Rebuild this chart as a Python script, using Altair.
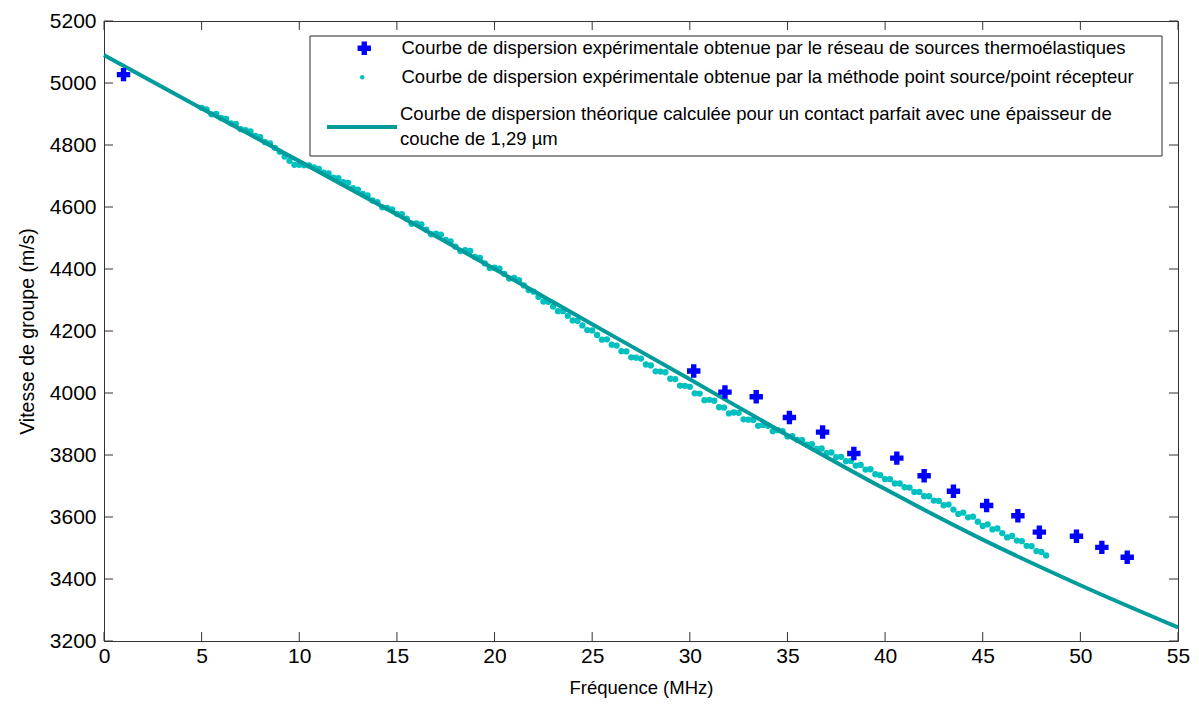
import altair as alt
import pandas as pd

FONT = "Liberation Sans"
W, H = 1074, 620

cross_label = "Courbe de dispersion expérimentale obtenue par le réseau de sources thermoélastiques"
dot_label = "Courbe de dispersion expérimentale obtenue par la méthode point source/point récepteur"
line_label = "Courbe de dispersion théorique calculée pour un contact parfait avec une épaisseur de couche de 1,29 µm"

x_ticks = [0, 5, 10, 15, 20, 25, 30, 35, 40, 45, 50, 55]
y_ticks = [3200, 3400, 3600, 3800, 4000, 4200, 4400, 4600, 4800, 5000, 5200]

# thermoelastic source array (blue crosses)
cross_f = [1.0, 30.2, 31.8, 33.4, 35.1, 36.8, 38.4, 40.6, 42.0, 43.5, 45.2, 46.8, 47.9, 49.8, 51.1, 52.4]
cross_v = [5027, 4071, 4003, 3988, 3921, 3874, 3805, 3790, 3733, 3683, 3637, 3604, 3551, 3538, 3502, 3470]

# point source / point receiver (cyan dots)
dot_f = [5.0, 5.25, 5.5, 5.75, 6.0, 6.25, 6.5, 6.75, 7.0, 7.25, 7.5, 7.75, 8.0, 8.25, 8.5, 8.75,
         9.0, 9.25, 9.5, 9.75, 10.0, 10.25, 10.5, 10.75, 11.0, 11.25, 11.5, 11.75, 12.0, 12.25, 12.5, 12.75,
         13.0, 13.25, 13.5, 13.75, 14.0, 14.25, 14.5, 14.75, 15.0, 15.25, 15.5, 15.75, 16.0, 16.25, 16.5, 16.75,
         17.0, 17.25, 17.5, 17.75, 18.0, 18.25, 18.5, 18.75, 19.0, 19.25, 19.5, 19.75, 20.0, 20.25, 20.5, 20.75,
         21.0, 21.25, 21.5, 21.75, 22.0, 22.25, 22.5, 22.75, 23.0, 23.25, 23.5, 23.75, 24.0, 24.25, 24.5, 24.75,
         25.0, 25.25, 25.5, 25.75, 26.0, 26.25, 26.5, 26.75, 27.0, 27.25, 27.5, 27.75, 28.0, 28.25, 28.5, 28.75,
         29.0, 29.25, 29.5, 29.75, 30.0, 30.25, 30.5, 30.75, 31.0, 31.25, 31.5, 31.75, 32.0, 32.25, 32.5, 32.75,
         33.0, 33.25, 33.5, 33.75, 34.0, 34.25, 34.5, 34.75, 35.0, 35.25, 35.5, 35.75, 36.0, 36.25, 36.5, 36.75,
         37.0, 37.25, 37.5, 37.75, 38.0, 38.25, 38.5, 38.75, 39.0, 39.25, 39.5, 39.75, 40.0, 40.25, 40.5, 40.75,
         41.0, 41.25, 41.5, 41.75, 42.0, 42.25, 42.5, 42.75, 43.0, 43.25, 43.5, 43.75, 44.0, 44.25, 44.5, 44.75,
         45.0, 45.25, 45.5, 45.75, 46.0, 46.25, 46.5, 46.75, 47.0, 47.25, 47.5, 47.75, 48.0, 48.25]
dot_v = [4920, 4915, 4899, 4900, 4887, 4884, 4870, 4868, 4851, 4848, 4844, 4829, 4825, 4809, 4805, 4791,
         4778, 4763, 4749, 4736, 4736, 4735, 4734, 4728, 4723, 4711, 4708, 4695, 4693, 4680, 4678, 4661,
         4656, 4642, 4637, 4621, 4616, 4599, 4597, 4592, 4578, 4577, 4562, 4546, 4547, 4544, 4527, 4512,
         4514, 4511, 4494, 4489, 4472, 4458, 4461, 4458, 4439, 4436, 4418, 4403, 4404, 4401, 4384, 4369,
         4371, 4364, 4347, 4332, 4327, 4310, 4295, 4294, 4279, 4264, 4264, 4249, 4234, 4233, 4218, 4203,
         4202, 4187, 4172, 4173, 4156, 4153, 4135, 4134, 4115, 4114, 4111, 4092, 4089, 4070, 4069, 4067,
         4046, 4045, 4024, 4023, 4020, 3999, 3998, 3977, 3978, 3975, 3954, 3953, 3934, 3937, 3936, 3915,
         3914, 3913, 3894, 3897, 3894, 3877, 3880, 3877, 3860, 3861, 3849, 3848, 3833, 3835, 3820, 3821,
         3806, 3808, 3793, 3794, 3780, 3781, 3766, 3768, 3753, 3754, 3738, 3735, 3722, 3722, 3708, 3708,
         3696, 3695, 3681, 3681, 3667, 3667, 3653, 3652, 3638, 3640, 3624, 3610, 3614, 3599, 3601, 3585,
         3571, 3576, 3560, 3563, 3548, 3534, 3539, 3524, 3522, 3507, 3506, 3490, 3487, 3476]

# theoretical curve (teal line)
theo_f = [0, 5, 10, 15, 20, 25, 30, 35, 40, 45, 50, 55]
theo_v = [5090, 4918, 4748, 4576, 4400, 4222, 4044, 3864, 3690, 3527, 3380, 3244]

df_cross = pd.DataFrame({"f": cross_f, "v": cross_v, "serie": cross_label})
df_dot = pd.DataFrame({"f": dot_f, "v": dot_v, "serie": dot_label})
df_theo = pd.DataFrame({"f": theo_f, "v": theo_v, "serie": line_label})
df_xt = pd.DataFrame({"t": x_ticks})
df_yt = pd.DataFrame({"t": y_ticks})

xscale = alt.Scale(domain=[0, 55], nice=False, zero=False)
yscale = alt.Scale(domain=[3200, 5200], nice=False, zero=False)

TICK_COL = "#333333"
TL = 9  # inward tick length

main_x = alt.Axis(orient="bottom", values=x_ticks, ticks=False, domain=False, grid=False, format="d",
                  labelFont=FONT, labelFontSize=21, labelColor="black", labelPadding=4,
                  labelFlush=False, labelOverlap=False,
                  title="Fréquence (MHz)", titleFont=FONT, titleFontSize=18.5,
                  titleFontWeight="normal", titleColor="black", titlePadding=12)
main_y = alt.Axis(orient="left", values=y_ticks, ticks=False, domain=False, grid=False, format="d",
                  labelFont=FONT, labelFontSize=21, labelColor="black", labelPadding=8,
                  labelFlush=False, labelOverlap=False,
                  title="Vitesse de groupe (m/s)", titleFont=FONT, titleFontSize=19.5,
                  titleFontWeight="normal", titleColor="black", titlePadding=12)

LEG = dict(orient="none", title=None, labelFont=FONT, labelFontSize=18.5, labelColor="black",
           labelLimit=0, padding=0)

# inward tick marks on the four sides, placed through the scales
xt_bottom = alt.Chart(df_xt).mark_rule(color=TICK_COL, strokeWidth=1).encode(
    x=alt.X("t:Q", scale=xscale, axis=None), y=alt.value(H), y2=alt.value(H - TL))
xt_top = alt.Chart(df_xt).mark_rule(color=TICK_COL, strokeWidth=1).encode(
    x=alt.X("t:Q", scale=xscale, axis=None), y=alt.value(0), y2=alt.value(TL))
yt_left = alt.Chart(df_yt).mark_rule(color=TICK_COL, strokeWidth=1).encode(
    y=alt.Y("t:Q", scale=yscale, axis=None), x=alt.value(0), x2=alt.value(TL))
yt_right = alt.Chart(df_yt).mark_rule(color=TICK_COL, strokeWidth=1).encode(
    y=alt.Y("t:Q", scale=yscale, axis=None), x=alt.value(W), x2=alt.value(W - TL))

box = alt.Chart(pd.DataFrame({"k": [0]})).mark_rect(
    fill="white", stroke="#262626", strokeWidth=1
).encode(x=alt.value(206), x2=alt.value(1058), y=alt.value(15), y2=alt.value(135))

dots = alt.Chart(df_dot).mark_circle(size=40, opacity=1).encode(
    x=alt.X("f:Q", scale=xscale, axis=None),
    y=alt.Y("v:Q", scale=yscale, axis=None),
    color=alt.Color("serie:N", scale=alt.Scale(domain=[dot_label], range=["#00C0C0"]),
                    legend=alt.Legend(legendX=249, legendY=47, symbolType="circle", symbolSize=20,
                                      labelOffset=30, **LEG)),
)

line = alt.Chart(df_theo).mark_line(strokeWidth=4, interpolate="monotone").encode(
    x=alt.X("f:Q", scale=xscale, axis=None),
    y=alt.Y("v:Q", scale=yscale, axis=None),
    color=alt.Color("serie:N", scale=alt.Scale(domain=[line_label], range=["#009B9B"]),
                    legend=alt.Legend(legendX=221, legendY=69, symbolType="stroke", symbolSize=4900,
                                      symbolStrokeWidth=4, labelOffset=1, labelBaseline="line-bottom",
                                      labelExpr="['Courbe de dispersion théorique calculée pour un contact parfait avec une épaisseur de', 'couche de 1,29 µm']",
                                      **LEG)),
)

crosses = alt.Chart(df_cross).mark_point(shape="cross", filled=True, size=180, opacity=1).encode(
    x=alt.X("f:Q", scale=xscale, axis=main_x),
    y=alt.Y("v:Q", scale=yscale, axis=main_y),
    color=alt.Color("serie:N", scale=alt.Scale(domain=[cross_label], range=["#0000FF"]),
                    legend=alt.Legend(legendX=251, legendY=18, symbolType="cross", symbolSize=180,
                                      labelOffset=28, **LEG)),
)

chart = alt.layer(xt_bottom, xt_top, yt_left, yt_right, box, dots, line, crosses).resolve_scale(
    color="independent"
).resolve_axis(
    x="independent", y="independent"
).properties(
    width=W, height=H,
    autosize=alt.AutoSizeParams(type="none"),
    padding={"left": 96, "top": 13, "right": 13, "bottom": 60},
    background="white",
).configure(
    style={"guide-label": {"lineHeight": 25}}
).configure_view(stroke=TICK_COL, strokeWidth=1)

chart.save("out.html", embed_options={"renderer": "svg", "actions": False})
